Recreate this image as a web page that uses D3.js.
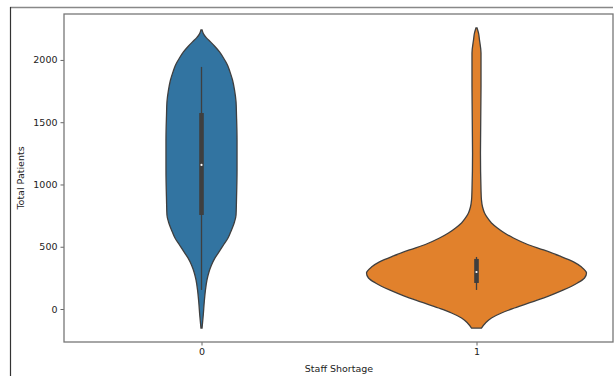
<!DOCTYPE html>
<html><head><meta charset="utf-8">
<script src="https://cdn.jsdelivr.net/npm/d3@7"></script>
<style>body{margin:0;background:#fff;} svg{display:block;font-family:"DejaVu Sans",sans-serif;}</style>
</head><body>
<svg id="c" width="614" height="376"></svg>
<script>
const categories = ["0", "1"];
const colors = ["#3274a1", "#e1812c"];
const yTicks = [0, 500, 1000, 1500, 2000];
// density profiles (value, relative half-width)
const values0  = [2241, 2209, 2177, 2145, 2112, 2064, 2016, 1960, 1904, 1839, 1759, 1663, 1558, 1357, 1116, 876, 755, 699, 635, 570, 514, 458, 410, 353, 297, 233, 153, 56, -48, -153];
const density0 = [0.005, 0.018, 0.045, 0.082, 0.118, 0.164, 0.2, 0.236, 0.259, 0.282, 0.3, 0.314, 0.318, 0.323, 0.323, 0.318, 0.314, 0.3, 0.273, 0.241, 0.2, 0.159, 0.123, 0.091, 0.068, 0.05, 0.036, 0.025, 0.016, 0.005];
const values1  = [2257, 2217, 2161, 2056, 1783, 1253, 956, 876, 819, 771, 731, 691, 651, 610, 570, 522, 474, 426, 378, 337, 289, 249, 209, 153, 104, 56, 8, -32, -72, -112, -153];
const density1 = [0.005, 0.018, 0.027, 0.041, 0.041, 0.036, 0.041, 0.045, 0.055, 0.073, 0.1, 0.136, 0.19, 0.255, 0.336, 0.455, 0.61, 0.755, 0.882, 0.955, 1.0, 0.982, 0.918, 0.791, 0.655, 0.5, 0.345, 0.227, 0.136, 0.082, 0.045];
// box stats: whisker low, q1, median, q3, whisker high
const box0 = [153, 755, 1157, 1574, 1944];
const box1 = [153, 209, 297, 402, 418];

const svg = d3.select("#c");
const L = 64, R = 614, T = 14, B = 342;
const x = d3.scaleLinear().domain([-0.5, 1.5]).range([L, R]);
const y = d3.scaleLinear().domain([-265, 2369]).range([B, T]);
const w = d3.scaleLinear().domain([0, 1]).range([0, 0.4 * (x(1) - x(0))]);

// outer frame
svg.append("line").attr("x1", 10).attr("x2", 613).attr("y1", 7.5).attr("y2", 7.5).attr("stroke", "#888").attr("stroke-width", 1.6);
svg.append("line").attr("x1", 10.5).attr("x2", 10.5).attr("y1", 7).attr("y2", 376).attr("stroke", "#333").attr("stroke-width", 1.2);

const profiles = [[values0, density0], [values1, density1]];
const boxes = [box0, box1];

profiles.forEach(([vals, dens], i) => {
  const pts = vals.map((v, k) => [v, dens[k]]);
  const area = d3.area()
    .y(d => y(d[0]))
    .x0(d => x(i) - w(d[1]))
    .x1(d => x(i) + w(d[1]))
    .curve(d3.curveMonotoneY);
  svg.append("path").datum(pts).attr("d", area)
    .attr("fill", colors[i]).attr("stroke", "#3f3f3f").attr("stroke-width", 1.3);
  const b = boxes[i];
  svg.append("line").attr("x1", x(i)).attr("x2", x(i)).attr("y1", y(b[0])).attr("y2", y(b[4]))
    .attr("stroke", "#3f3f3f").attr("stroke-width", 1.3);
  svg.append("rect").attr("x", x(i) - 2.3).attr("width", 4.6)
    .attr("y", y(b[3])).attr("height", y(b[1]) - y(b[3])).attr("fill", "#3f3f3f");
  svg.append("circle").attr("cx", x(i)).attr("cy", y(b[2])).attr("r", 1.1).attr("fill", "#fff");
});

// axes
const yAxis = d3.axisLeft(y).tickValues(yTicks).tickFormat(d3.format("d")).tickSize(3.5).tickPadding(3);
const gy = svg.append("g").attr("transform", `translate(${L},0)`).call(yAxis);
const xAxis = d3.axisBottom(x).tickValues([0, 1]).tickFormat(d => categories[d]).tickSize(3.5).tickPadding(3);
const gx = svg.append("g").attr("transform", `translate(0,${B})`).call(xAxis);
[gy, gx].forEach(g => {
  g.select(".domain").remove();
  g.selectAll("line").attr("stroke", "#555").attr("stroke-width", 0.9);
  g.selectAll("text").attr("font-size", 9.5).attr("fill", "#222").attr("font-family", "DejaVu Sans");
});
// spines
svg.append("rect").attr("x", L).attr("y", T).attr("width", R - L - 1).attr("height", B - T)
  .attr("fill", "none").attr("stroke", "#777").attr("stroke-width", 1.3);

svg.append("text").attr("transform", `translate(24,${(T + B) / 2}) rotate(-90)`)
  .attr("text-anchor", "middle").attr("font-size", 9.5).attr("fill", "#222").text("Total Patients");
svg.append("text").attr("x", (L + R) / 2).attr("y", 372)
  .attr("text-anchor", "middle").attr("font-size", 9.5).attr("fill", "#222").text("Staff Shortage");
</script>
</body></html>
